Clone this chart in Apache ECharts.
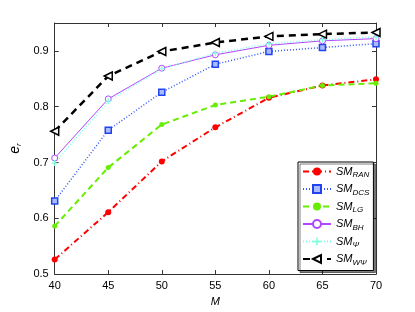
<!DOCTYPE html>
<html><head><meta charset="utf-8">
<script src="https://cdn.jsdelivr.net/npm/echarts@6/dist/echarts.min.js"></script>
<style>html,body{margin:0;padding:0;background:#fff}#c{width:415px;height:312px}</style>
</head><body><div id="c"></div>
<script>
const categories = [40, 45, 50, 55, 60, 65, 70];
const smRAN  = [0.526, 0.611, 0.702, 0.763, 0.816, 0.838, 0.849];
const smDCS  = [0.631, 0.758, 0.826, 0.876, 0.899, 0.906, 0.913];
const smLG   = [0.586, 0.691, 0.768, 0.803, 0.818, 0.838, 0.842];
const smBH   = [0.708, 0.814, 0.869, 0.893, 0.910, 0.918, 0.922];
const smPsi  = [0.699, 0.810, 0.868, 0.896, 0.913, 0.920, 0.925];
const smWPsi = [0.756, 0.855, 0.899, 0.915, 0.926, 0.930, 0.933];
const yTicks = [0.5, 0.6, 0.7, 0.8, 0.9];

const names = ['SM_RAN','SM_DCS','SM_LG','SM_BH','SM_Ψ','SM_WΨ'];
const font = 'Liberation Sans, Arial, sans-serif';
const pair = a => categories.map((x,i)=>[x,a[i]]);
const plus = 'path://M4,0H6V4H10V6H6V10H4V6H0V4H4Z';

const chart = echarts.init(document.getElementById('c'), null, {renderer:'canvas'});
const axisCommon = {
  axisLine:{show:true,lineStyle:{color:'#333',width:1}},
  axisTick:{show:true,inside:true,length:4,lineStyle:{color:'#333'}},
  splitLine:{show:false}
};
chart.setOption({
  animation:false,
  grid:{left:54,right:39,top:23,bottom:34},
  xAxis:[
    Object.assign({type:'value',min:40,max:70,interval:5,name:'M',nameLocation:'middle',nameGap:16,
      nameTextStyle:{fontFamily:font,fontSize:11,fontStyle:'italic',color:'#000'},
      axisLabel:{fontFamily:font,fontSize:11,color:'#000',margin:6}},axisCommon),
    Object.assign({type:'value',position:'top',min:40,max:70,interval:5,axisLabel:{show:false}},axisCommon)
  ],
  yAxis:[
    Object.assign({type:'value',min:0.5,max:0.95,interval:0.1,name:'{a|e}{b|r}',
      nameLocation:'middle',nameGap:27,nameRotate:90,
      nameTextStyle:{fontFamily:font,fontSize:13,fontStyle:'italic',color:'#000',
        rich:{a:{fontFamily:font,fontSize:14,fontStyle:'italic',color:'#000'},b:{fontFamily:font,fontSize:8,fontStyle:'italic',color:'#000',padding:[7,0,0,0]}}},
      axisLabel:{fontFamily:font,fontSize:11,color:'#000',margin:6,showMaxLabel:false,
        formatter:v=>yTicks.some(t=>Math.abs(t-v)<1e-6)?v.toFixed(1):''}},axisCommon),
    Object.assign({type:'value',position:'right',min:0.5,max:0.95,interval:0.1,axisLabel:{show:false}},axisCommon)
  ],
  legend:{
    orient:'vertical',left:298,top:162,itemWidth:28,itemHeight:10,itemGap:4.5,
    padding:[4,4,4,4],backgroundColor:'#fff',borderColor:'#000',borderWidth:1,
    shadowColor:'rgba(0,0,0,0.5)',shadowOffsetX:2,shadowOffsetY:2,shadowBlur:0,
    data:names,
    formatter:n=>{const p=n.split('_');return '{a|'+p[0]+'}{b|'+p[1]+'}';},
    textStyle:{fontFamily:font,fontStyle:'italic',color:'#000',
      rich:{a:{fontFamily:font,fontSize:11,fontStyle:'italic',color:'#000'},
            b:{fontFamily:font,fontSize:8,fontStyle:'italic',color:'#000',padding:[7,0,0,0]}}}
  },
  series:[
    {name:names[0],type:'line',data:pair(smRAN),symbol:'circle',symbolSize:6,
      lineStyle:{color:'#ff0000',width:2,type:[6,3,1,3]},itemStyle:{color:'#ff0000'}},
    {name:names[1],type:'line',data:pair(smDCS),symbol:'rect',symbolSize:6,
      lineStyle:{color:'#3355ff',width:1.5,type:[1,2]},itemStyle:{color:'#aabbff',borderColor:'#2244ee',borderWidth:1.5}},
    {name:names[2],type:'line',data:pair(smLG),symbol:'circle',symbolSize:5,
      lineStyle:{color:'#66ee00',width:2,type:[6,4]},itemStyle:{color:'#66ee00'}},
    {name:names[3],type:'line',data:pair(smBH),symbol:'circle',symbolSize:6,
      lineStyle:{color:'#b146ff',width:1},itemStyle:{color:'#fff',borderColor:'#b146ff',borderWidth:1}},
    {name:names[4],type:'line',data:pair(smPsi),symbol:plus,symbolSize:6,
      lineStyle:{color:'#80ffe0',width:1.5,type:[1,2]},itemStyle:{color:'#80ffe0'}},
    {name:names[5],type:'line',data:pair(smWPsi),symbol:'triangle',symbolRotate:90,symbolSize:8,
      lineStyle:{color:'#000',width:2.5,type:[7,5]},itemStyle:{color:'#fff',borderColor:'#000',borderWidth:1.5}}
  ]
});
</script></body></html>
